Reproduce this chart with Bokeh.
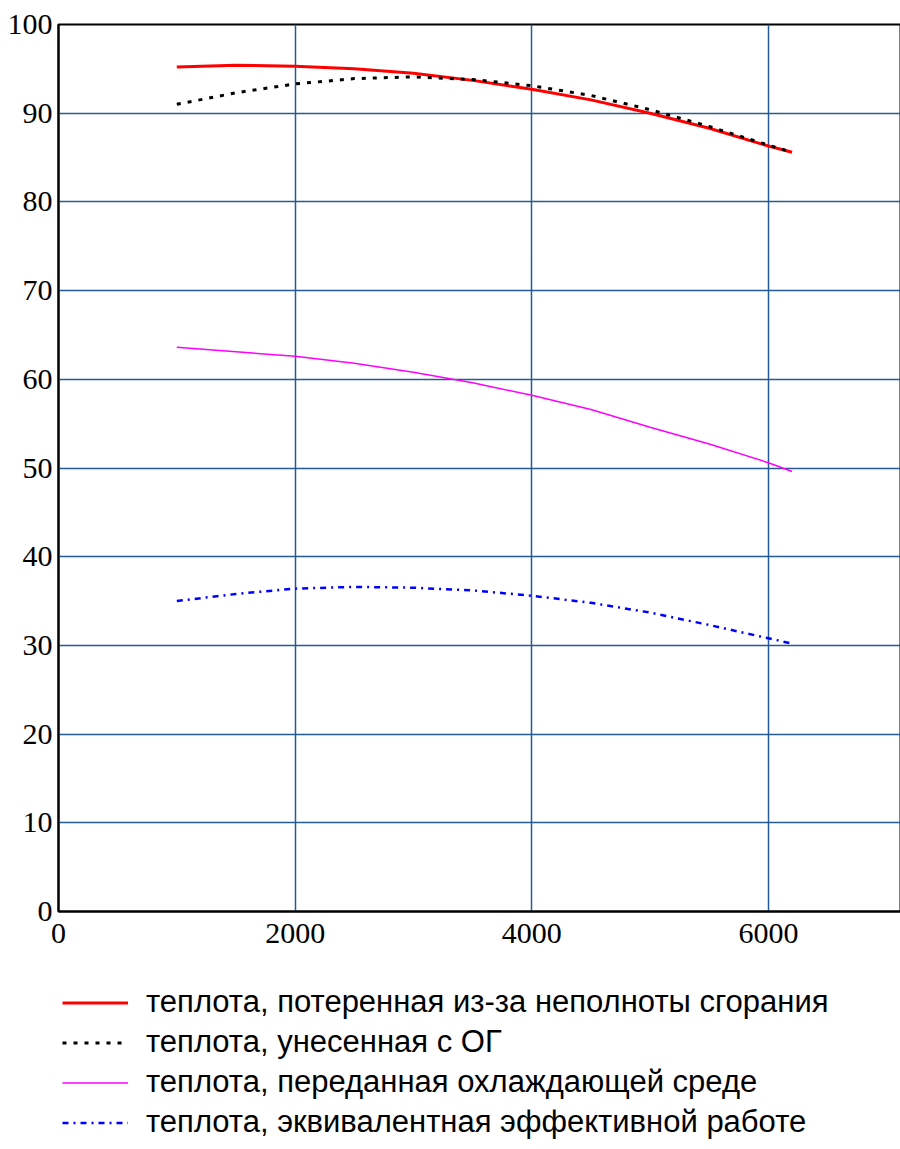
from bokeh.plotting import figure
from bokeh.models import FixedTicker, Legend, LegendItem, ColumnDataSource
from bokeh.layouts import column
from bokeh.embed import file_html
from bokeh.resources import INLINE

rpm = [1000, 1500, 2000, 2500, 3000, 3500, 4000, 4500, 5000, 5500, 6000, 6200]
q_incomplete = [95.2, 95.4, 95.3, 95.0, 94.5, 93.7, 92.7, 91.5, 90.0, 88.3, 86.3, 85.6]
q_exhaust = [91.0, 92.3, 93.3, 93.9, 94.1, 93.8, 93.1, 92.0, 90.4, 88.5, 86.4, 85.6]
q_cooling = [63.6, 63.1, 62.6, 61.8, 60.8, 59.6, 58.2, 56.6, 54.6, 52.7, 50.6, 49.6]
q_effective = [35.0, 35.8, 36.4, 36.6, 36.5, 36.2, 35.6, 34.8, 33.7, 32.3, 30.8, 30.2]

labels = [
    "теплота, потеренная из-за неполноты сгорания",
    "теплота, унесенная с ОГ",
    "теплота, переданная охлаждающей среде",
    "теплота, эквивалентная эффективной работе",
]
x_ticks = [0, 2000, 4000, 6000]
y_ticks = [0, 10, 20, 30, 40, 50, 60, 70, 80, 90, 100]

styles = [
    dict(line_color="red", line_width=3),
    dict(line_color="black", line_width=3, line_dash="4 7"),
    dict(line_color="#ff00ff", line_width=1.5),
    dict(line_color="blue", line_width=2.5, line_dash="6 5 2 5"),
]

src = ColumnDataSource(dict(x=rpm, a=q_incomplete, b=q_exhaust, c=q_cooling, d=q_effective))

p = figure(frame_width=843, frame_height=887, x_range=(0, 7125), y_range=(0, 100),
           output_backend="svg", toolbar_location=None,
           min_border_left=58, min_border_top=24, min_border_right=0, min_border_bottom=60)

grid_col = "#245a96"
p.xgrid.ticker = FixedTicker(ticks=x_ticks)
p.ygrid.ticker = FixedTicker(ticks=y_ticks)
p.xgrid.grid_line_color = grid_col
p.ygrid.grid_line_color = grid_col
p.xgrid.grid_line_width = 1.5
p.ygrid.grid_line_width = 1.5

p.outline_line_color = "black"
p.outline_line_width = 2

for ax, ticks in ((p.xaxis[0], x_ticks), (p.yaxis[0], y_ticks)):
    ax.ticker = FixedTicker(ticks=ticks)
    ax.axis_line_color = "black"
    ax.axis_line_width = 2
    ax.major_tick_line_color = None
    ax.minor_tick_line_color = None
    ax.major_label_text_font = "Liberation Serif"
    ax.major_label_text_font_size = "30px"
    ax.major_label_text_color = "black"
p.xaxis.major_label_standoff = 6
p.yaxis.major_label_standoff = 0

for col, st in zip(["a", "b", "c", "d"], styles):
    p.line("x", col, source=src, **st)

# legend panel below the chart (its series lie outside its view; only the legend shows)
lg = figure(width=900, height=178, x_range=(-2, -1), y_range=(-2, -1),
            output_backend="svg", toolbar_location=None,
            x_axis_type=None, y_axis_type=None,
            min_border=0, min_border_left=0, min_border_right=0, min_border_top=0, min_border_bottom=0)
lg.xgrid.visible = False
lg.ygrid.visible = False
lg.outline_line_color = None

renderers = [lg.line("x", col, source=src, **st) for col, st in zip(["a", "b", "c", "d"], styles)]
legend = Legend(items=[LegendItem(label=labels[i], renderers=[r]) for i, r in enumerate(renderers)],
                location=(4, 9), orientation="vertical",
                glyph_width=66, glyph_height=35, label_height=35, spacing=4,
                label_standoff=18, padding=4, margin=0,
                label_text_font="Liberation Sans", label_text_font_size="31px",
                label_text_color="black",
                border_line_color=None, background_fill_alpha=0)
lg.add_layout(legend, "center")

layout = column(p, lg, spacing=0)
open("out.html", "w").write(file_html(layout, INLINE))
